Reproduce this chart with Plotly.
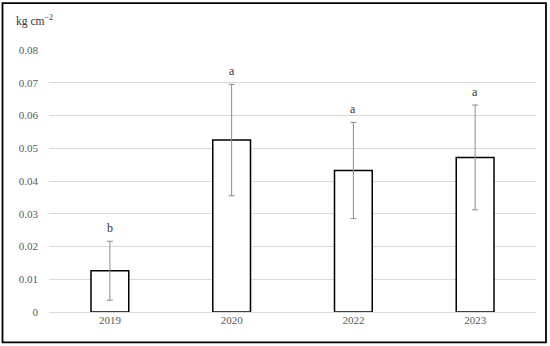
import plotly.graph_objects as go

years = ["2019", "2020", "2022", "2023"]
means = [0.0126, 0.0525, 0.0432, 0.0472]
errors = [0.0090, 0.0170, 0.0147, 0.0160]
letters = ["b", "a", "a", "a"]
y_ticks = [0, 0.01, 0.02, 0.03, 0.04, 0.05, 0.06, 0.07, 0.08]
y_tick_labels = ["0", "0.01", "0.02", "0.03", "0.04", "0.05", "0.06", "0.07", "0.08"]
unit_label = "kg cm<sup>−2</sup>"

FONT = "Liberation Serif, DejaVu Serif, serif"

fig = go.Figure()
fig.add_trace(go.Bar(
    x=years, y=means, width=0.31,
    marker=dict(color="white", line=dict(color="black", width=1.5)),
    error_y=dict(type="data", array=errors, visible=True,
                 color="#8c8c8c", thickness=1, width=3),
    showlegend=False, hoverinfo="skip",
))

annotations = []
for i, (m, e, l) in enumerate(zip(means, errors, letters)):
    annotations.append(dict(x=i, y=m + e, xref="x", yref="y", text=l,
                            showarrow=False, yshift=13,
                            font=dict(family=FONT, size=12, color="#333333")))
annotations.append(dict(xref="paper", yref="paper", x=-0.072, y=1.112,
                        xanchor="left", yanchor="middle", text=unit_label,
                        showarrow=False, font=dict(family=FONT, size=11.5, color="#333333")))

fig.update_layout(
    annotations=annotations,
    shapes=[dict(type="rect", xref="paper", yref="paper",
                 x0=-0.0955, x1=1.0205, y0=-0.116, y1=1.179,
                 line=dict(color="black", width=1.8), fillcolor="rgba(0,0,0,0)")],
    width=550, height=346,
    margin=dict(l=49, r=14, t=50, b=34, autoexpand=False),
    paper_bgcolor="white", plot_bgcolor="white",
    font=dict(family=FONT, size=11, color="#595959"),
    xaxis=dict(type="category", range=[-0.5, 3.5], showgrid=False,
               showline=False, ticks="", tickfont=dict(family=FONT, size=11, color="#595959")),
    yaxis=dict(range=[0, 0.08], tickvals=y_ticks, ticktext=y_tick_labels,
               showgrid=True, gridcolor="#d9d9d9", gridwidth=1,
               zeroline=True, zerolinecolor="#d9d9d9", zerolinewidth=1,
               showline=False, ticks="", ticklabelstandoff=10,
               tickfont=dict(family=FONT, size=11, color="#595959")),
)

fig.write_html("out.html", config={"displayModeBar": False},
               post_script="document.body.style.margin='0';")
